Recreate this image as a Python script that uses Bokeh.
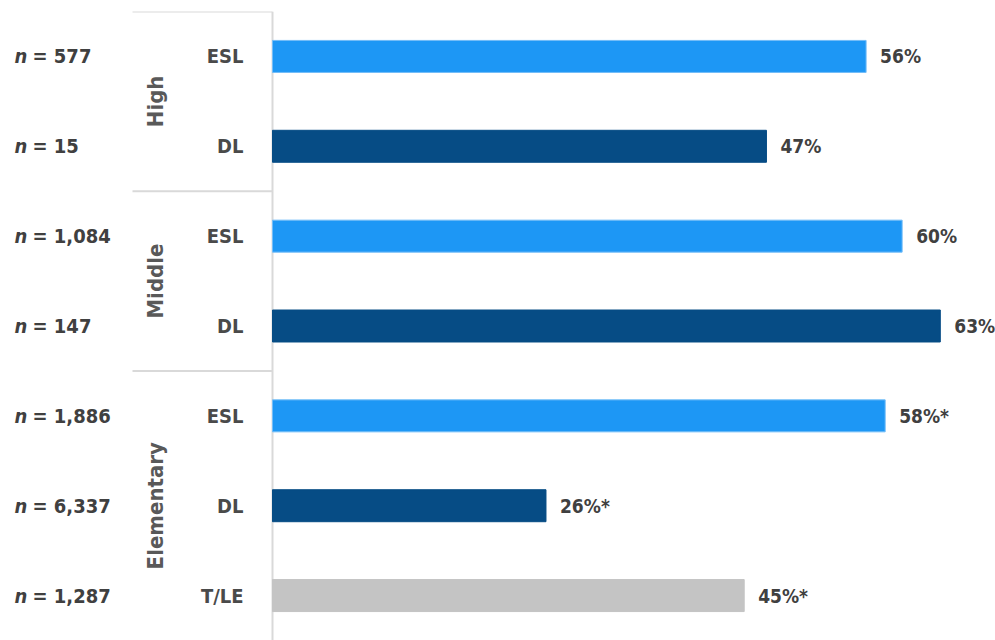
from math import pi

from bokeh.core.properties import value
from bokeh.embed import file_html
from bokeh.models import ColumnDataSource, FactorRange, Range1d, Span
from bokeh.plotting import figure
from bokeh.resources import INLINE

# ---- data ----
groups = ["High", "High", "Middle", "Middle", "Elementary", "Elementary", "Elementary"]
programs = ["ESL", "DL", "ESL", "DL", "ESL", "DL", "T/LE"]
percent = [56.0, 46.6, 59.4, 63.0, 57.8, 25.8, 44.5]
percent_labels = ["56%", "47%", "60%", "63%", "58%*", "26%*", "45%*"]
n_counts = ["577", "15", "1,084", "147", "1,886", "6,337", "1,287"]
group_names = ["High", "Middle", "Elementary"]

program_colors = {"ESL": "#1d97f5", "DL": "#064c85", "T/LE": "#c4c4c4"}
program_lines = {"ESL": "#72bdf8", "DL": "#064c85", "T/LE": "#c4c4c4"}

# ---- layout ----
W, H = 995, 640
ORIGIN_PX = 272          # pixel of x=0 inside the frame
PX_PER_UNIT = 10.6
FONT = value("'Liberation Sans Narrow', 'DejaVu Sans Condensed', 'Roboto', sans-serif")

factors = [(g, s) for g, s in zip(groups, programs)]
y_range = FactorRange(factors=list(reversed(factors)), factor_padding=0,
                      group_padding=0, range_padding=0)

x_start = -ORIGIN_PX / PX_PER_UNIT
x_end = (W - ORIGIN_PX) / PX_PER_UNIT

p = figure(width=W, height=H, y_range=y_range, x_range=Range1d(x_start, x_end),
           output_backend="svg", toolbar_location=None,
           min_border_left=0, min_border_right=0, min_border_top=11, min_border_bottom=0)
p.axis.visible = False
p.grid.visible = False
p.outline_line_color = None
p.background_fill_color = "white"

src = ColumnDataSource(dict(
    y=factors,
    val=percent,
    lab=percent_labels,
    prog=programs,
    n=["= " + c for c in n_counts],
    ital=["n"] * len(factors),
    zero=[0] * len(factors),
    color=[program_colors[s] for s in programs],
    lcolor=[program_lines[s] for s in programs],
))

# vertical axis line
p.add_layout(Span(location=0, dimension="height", line_color="#d9d9d9",
                  line_width=2, level="underlay"))

# group separators
sep_src = ColumnDataSource(dict(
    y=[(g, [s for gg, s in factors if gg == g][0], 0.5) for g in group_names],
    x0=[-140 / PX_PER_UNIT] * len(group_names),
    x1=[0] * len(group_names),
))
p.segment(x0="x0", y0="y", x1="x1", y1="y", source=sep_src,
          line_color="#d9d9d9", line_width=2)

# bars
p.hbar(y="y", left=0, right="val", height=0.356, source=src,
       fill_color="color", line_color="lcolor", line_width=1)

# value labels
p.text(x="val", y="y", text="lab", source=src, x_offset=14,
       text_align="left", text_baseline="middle", text_font=FONT,
       text_font_style="bold", text_font_size="19px", text_color="#404040")

# program labels
p.text(x="zero", y="y", text="prog", source=src, x_offset=-29,
       text_align="right", text_baseline="middle", text_font=FONT,
       text_font_style="bold", text_font_size="20px", text_color="#4a4a4a")

# n labels
p.text(x="zero", y="y", text="ital", source=src, x_offset=-258,
       text_align="left", text_baseline="middle", text_font=FONT,
       text_font_style="bold italic", text_font_size="20px", text_color="#404040")
p.text(x="zero", y="y", text="n", source=src, x_offset=-240,
       text_align="left", text_baseline="middle", text_font=FONT,
       text_font_style="bold", text_font_size="20px", text_color="#404040")

# group labels
grp_src = ColumnDataSource(dict(y=group_names, x=[0] * len(group_names), t=group_names))
p.text(x="x", y="y", text="t", source=grp_src, x_offset=-117, angle=pi / 2,
       text_align="center", text_baseline="middle", text_font=FONT,
       text_font_style="bold", text_font_size="22px", text_color="#595959")

open("out.html", "w").write(file_html(p, INLINE))
